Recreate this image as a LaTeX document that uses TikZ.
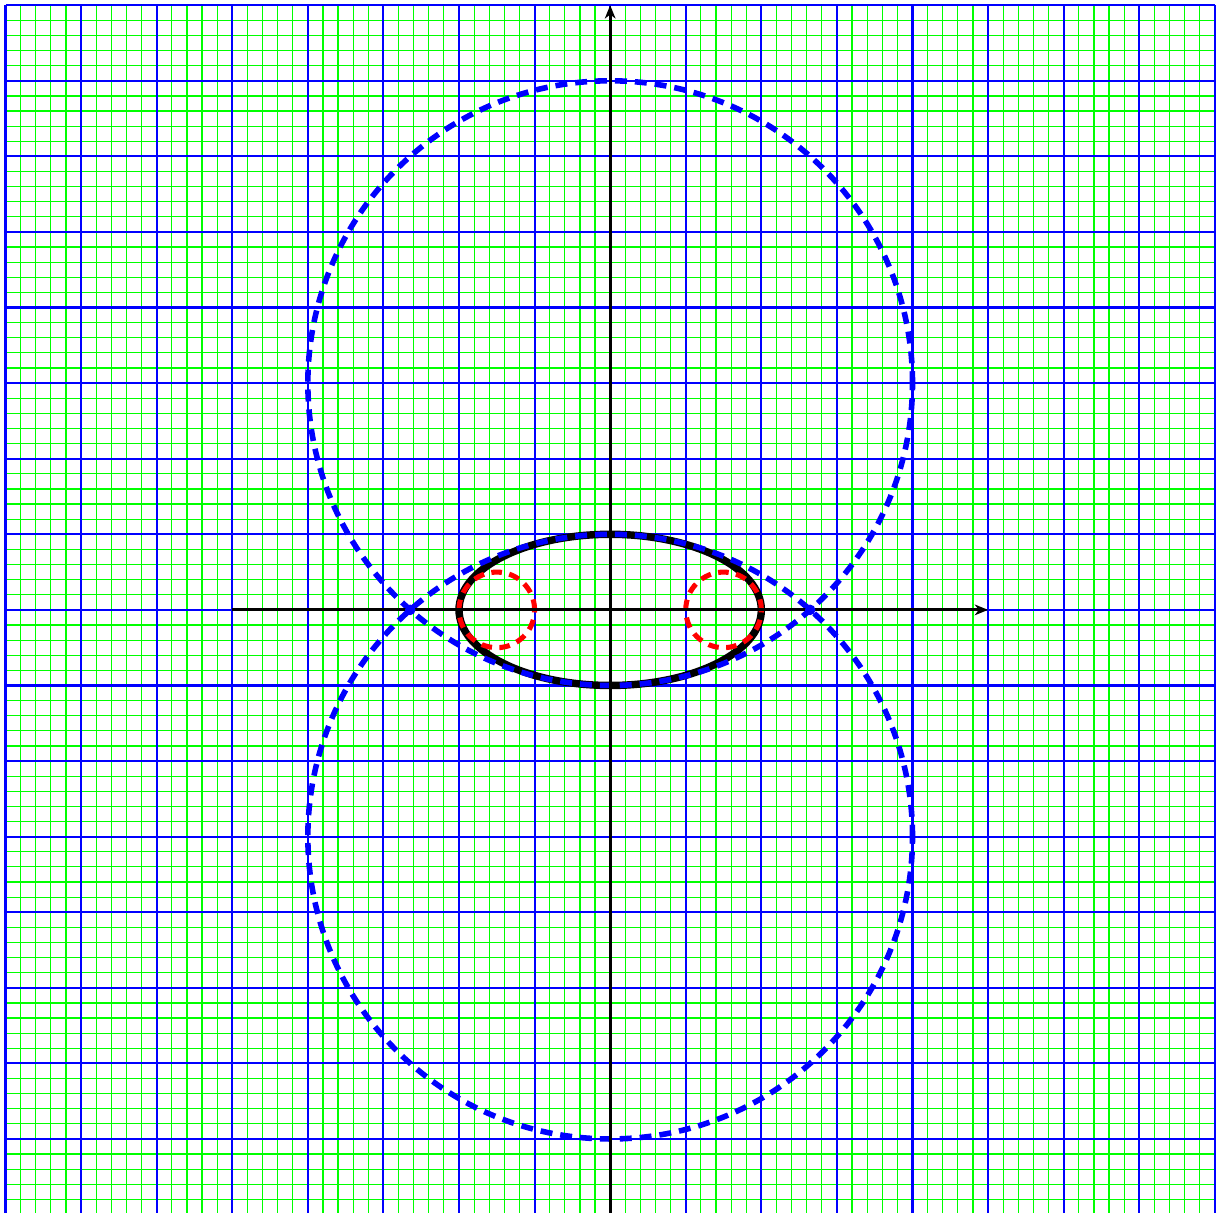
\documentclass[tikz,border=0pt]{standalone}
\usetikzlibrary{arrows.meta}
\tikzset{
  minorgrid/.style={green, line width=0.45pt},
  majorgrid/.style={blue, line width=0.8pt},
  axisline/.style={black, line width=1.1pt, -{Stealth[length=5pt,width=4pt,inset=1.5pt]}},
  curvebold/.style={black, line width=2.8pt},
  reddash/.style={red, line width=1.9pt, dash pattern=on 4pt off 2.8pt},
  bluedash/.style={blue, line width=2.1pt, dash pattern=on 4.5pt off 3pt},
  bluedot/.style={fill=blue, draw=none}
}
\begin{document}
\begin{tikzpicture}[x=1cm,y=1cm]
\useasboundingbox (-8.073,-7.976) rectangle (8.108,8.069);
\foreach \i in {-40,...,40} {
  \draw[minorgrid] ({\i/5},-8) -- ({\i/5},8);
  \draw[minorgrid] (-8,{\i/5}) -- (8,{\i/5});
}
\foreach \i in {-8,...,8} {
  \draw[majorgrid] (\i,-8) -- (\i,8);
  \draw[majorgrid] (-8,\i) -- (8,\i);
}
\draw[curvebold] (0,0) ellipse [x radius=2, y radius=1];
\draw[reddash] (-1.5,0) circle [radius=0.5];
\draw[reddash] (1.5,0) circle [radius=0.5];
\draw[bluedash] (0,3) circle [radius=4];
\draw[bluedash] (0,-3) circle [radius=4];
\coordinate (xl) at (-5,0);
\coordinate (xr) at (5,0);
\coordinate (yb) at (0,-8);
\coordinate (yt) at (0,8);
\draw[axisline] (xl) -- (xr);
\draw[axisline] (yb) -- (yt);
\coordinate (pl) at ({-sqrt(7)},0);
\coordinate (pr) at ({sqrt(7)},0);
\fill[bluedot] (pl) circle [radius=2pt];
\fill[bluedot] (pr) circle [radius=2pt];
\end{tikzpicture}
\end{document}
